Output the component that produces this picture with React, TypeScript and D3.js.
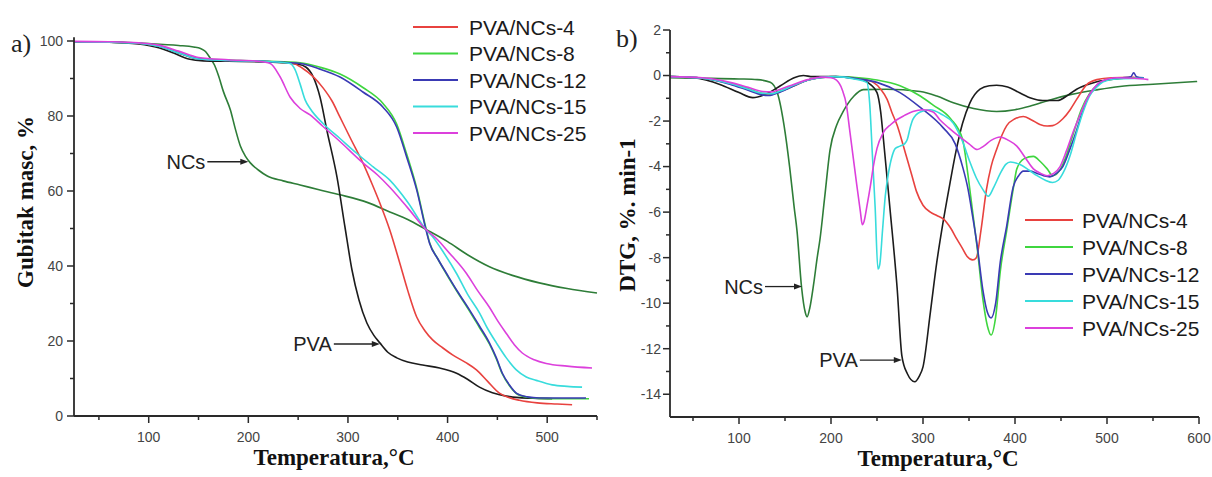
import React from "react";
import * as d3 from "d3";

// ---------- TGA (panel a): [temperature °C, residual mass %] ----------
const tgaNCs: [number, number][] = [
  [25, 99.8], [60, 99.7], [100, 99.3], [130, 98.8], [145, 98.4], [152, 98], [157, 97.2], [162, 95.3],
  [166, 93.6], [170, 90.8], [175, 86.5], [182, 81.6], [187, 76.5], [192, 72], [197, 69.3], [202, 67.5],
  [210, 65.6], [219, 64], [235, 62.7], [252, 61.6], [270, 60.4], [292, 59], [320, 56.9], [342, 54.4],
  [360, 52.4], [378, 49.8], [400, 46.5], [420, 43], [442, 39.8], [465, 37.5], [492, 35.5], [520, 34], [550, 32.8],
];
const tgaPVA: [number, number][] = [
  [25, 99.8], [60, 99.7], [90, 99.2], [110, 98.2], [125, 96.8], [140, 95.2], [155, 94.7], [180, 94.6],
  [220, 94.4], [250, 93.8], [258, 93], [265, 90.5], [272, 85], [279, 76], [289, 63.7], [297, 50.4],
  [304, 39], [311, 31], [319, 24.8], [326, 21.5], [332, 19.5], [340, 17], [349, 15.5], [360, 14.4],
  [375, 13.6], [392, 12.8], [409, 11.4], [420, 9.8], [432, 7.7], [445, 6.2], [459, 5.3], [472, 4.9],
  [490, 4.7], [505, 4.6],
];
const tga4: [number, number][] = [
  [25, 99.8], [60, 99.7], [90, 99.4], [110, 98.6], [130, 96.8], [150, 95.2], [180, 94.8], [220, 94.5],
  [245, 94], [254, 92.8], [265, 90.5], [275, 87.5], [284, 84], [292, 79.7], [303, 73.8], [315, 67.5],
  [324, 62], [332, 56.8], [342, 49.6], [352, 40.8], [360, 33.5], [369, 26.4], [377, 22.8], [385, 20.3],
  [395, 18.2], [405, 16.3], [418, 14.3], [429, 12.3], [440, 9.3], [452, 6.1], [462, 4.9], [472, 4.2],
  [490, 3.5], [510, 3.2], [525, 3],
];
const tga8: [number, number][] = [
  [25, 99.8], [60, 99.7], [90, 99.4], [110, 98.6], [130, 96.9], [150, 95.3], [180, 94.9], [220, 94.6],
  [252, 94.2], [272, 93], [292, 91.2], [315, 87.6], [335, 83.4], [349, 77.8], [359, 69.8], [369, 60.8],
  [378, 50.4], [382, 46.2], [390, 42], [399, 37.8], [410, 33], [422, 28], [432, 23.6], [442, 19.2],
  [449, 15.2], [455, 11.2], [462, 8.1], [469, 6], [480, 5], [492, 4.7], [515, 4.6], [542, 4.6],
];
const tga12: [number, number][] = [
  [25, 99.8], [60, 99.7], [90, 99.4], [110, 98.6], [130, 96.8], [150, 95.2], [180, 94.8], [220, 94.5],
  [252, 94], [272, 92.5], [292, 90.4], [315, 86.4], [335, 82.4], [349, 77], [359, 69], [369, 60.3],
  [378, 50], [382, 46], [390, 42], [399, 38], [410, 33.2], [422, 28.3], [432, 24], [442, 19.5],
  [449, 15.5], [455, 11.4], [462, 8.3], [469, 6.1], [480, 5.1], [492, 4.8], [515, 4.8], [539, 4.8],
];
const tga15: [number, number][] = [
  [25, 99.8], [60, 99.7], [90, 99.4], [110, 98.6], [130, 96.8], [150, 95.2], [180, 94.8], [220, 94.5],
  [242, 94], [247, 92.3], [252, 88.5], [257, 84.3], [262, 82], [275, 78], [292, 74], [309, 70],
  [325, 66.5], [342, 62.9], [360, 57], [378, 49.8], [385, 47.8], [397, 43.2], [409, 38], [420, 32.5],
  [432, 27.5], [440, 23.4], [449, 19.5], [459, 15.5], [469, 12.3], [479, 10.4], [489, 9.5], [505, 8.3],
  [520, 7.9], [535, 7.7],
];
const tga25: [number, number][] = [
  [25, 99.9], [60, 99.8], [90, 99.5], [110, 98.9], [130, 97.3], [150, 95.6], [180, 95], [210, 94.6],
  [222, 94], [232, 90.4], [242, 85], [252, 82], [262, 80.3], [275, 77.2], [292, 73.2], [315, 67.5],
  [330, 64.2], [342, 61], [360, 55.5], [378, 49.8], [390, 47], [400, 44], [419, 38], [430, 33.5],
  [442, 29], [450, 25.5], [459, 22], [467, 19], [475, 16.8], [487, 15], [499, 14], [520, 13.3], [545, 12.8],
];

// ---------- DTG (panel b): [temperature °C, %/min] ----------
const dtgNCs: [number, number][] = [
  [25, -0.1], [60, -0.12], [100, -0.15], [120, -0.18], [134, -0.3], [142, -0.8], [149, -2.2], [155, -4],
  [160, -5.8], [163, -6.8], [168, -9.3], [172, -10.4], [174, -10.6], [177, -10.2], [181, -9.2], [185, -8],
  [188, -7.2], [193, -5.4], [199, -3.25], [206, -2.2], [213, -1.6], [225, -0.9], [235, -0.62], [260, -0.6],
  [297, -0.7], [315, -0.9], [333, -1.2], [355, -1.45], [380, -1.58], [400, -1.5], [416, -1.35], [440, -1.05],
  [460, -0.84], [490, -0.62], [514, -0.48], [550, -0.38], [598, -0.26],
];
const dtgPVA: [number, number][] = [
  [25, -0.05], [50, -0.1], [80, -0.4], [100, -0.75], [115, -0.97], [130, -0.8], [145, -0.45], [160, -0.1],
  [170, 0], [180, -0.05], [200, -0.05], [230, -0.15], [243, -0.4], [250, -0.75], [254, -1.6], [257, -2.8],
  [264, -5.8], [272, -9.4], [277, -12.3], [283, -13.1], [291, -13.45], [296, -13.2], [300, -12.8], [308, -10.4],
  [315, -8.2], [322, -6.4], [329, -4.8], [336, -3.3], [343, -2.1], [351, -1.2], [362, -0.6], [372, -0.45],
  [380, -0.43], [392, -0.5], [405, -0.76], [418, -1.0], [430, -1.1], [446, -1.1], [458, -0.85], [467, -0.6],
  [480, -0.38], [489, -0.27], [510, -0.15], [530, -0.1],
];
const dtg4: [number, number][] = [
  [25, -0.05], [60, -0.12], [90, -0.35], [110, -0.6], [125, -0.8], [135, -0.82], [145, -0.7], [160, -0.45],
  [175, -0.2], [190, -0.08], [205, -0.05], [230, -0.12], [246, -0.3], [254, -0.6], [261, -1.05], [266, -1.6],
  [272, -2.2], [278, -3], [283, -3.7], [288, -4.4], [293, -5.1], [300, -5.7], [308, -6.0], [315, -6.15],
  [322, -6.3], [330, -6.7], [337, -7.2], [343, -7.6], [348, -7.95], [354, -8.1], [358, -8.0], [363, -6.8],
  [369, -5.0], [374, -4.0], [380, -3.25], [386, -2.6], [391, -2.2], [400, -1.9], [409, -1.8], [418, -1.95],
  [427, -2.15], [435, -2.22], [441, -2.2], [452, -1.9], [460, -1.5], [467, -1.05], [478, -0.4], [489, -0.18],
  [505, -0.1], [530, -0.08],
];
const dtg8: [number, number][] = [
  [25, -0.05], [60, -0.12], [90, -0.33], [110, -0.58], [125, -0.78], [135, -0.8], [145, -0.68], [160, -0.42],
  [175, -0.2], [190, -0.08], [205, -0.05], [230, -0.1], [250, -0.2], [275, -0.45], [297, -0.9], [311, -1.3],
  [330, -1.9], [343, -2.8], [349, -4.4], [354, -6.0], [359, -7.6], [365, -9.8], [370, -11.0], [374, -11.4],
  [379, -10.6], [384, -8.6], [391, -6.8], [398, -5.0], [402, -4.1], [410, -3.65], [420, -3.55], [428, -3.8],
  [435, -4.1], [441, -4.4], [448, -4.2], [455, -3.6], [463, -2.6], [472, -1.5], [481, -0.8], [490, -0.4],
  [500, -0.2], [520, -0.12], [540, -0.1],
];
const dtg12: [number, number][] = [
  [25, -0.05], [60, -0.12], [90, -0.38], [110, -0.65], [125, -0.85], [132, -0.88], [145, -0.72], [160, -0.45],
  [175, -0.2], [190, -0.08], [205, -0.05], [230, -0.15], [250, -0.3], [275, -0.75], [297, -1.4], [322, -2.3],
  [335, -3.0], [343, -4.0], [349, -5.0], [354, -6.2], [359, -7.5], [365, -9.4], [370, -10.4], [374, -10.65],
  [379, -10.0], [384, -8.2], [391, -6.6], [398, -4.9], [404, -4.4], [409, -4.2], [416, -4.2], [424, -4.3],
  [431, -4.4], [438, -4.45], [445, -4.3], [452, -4.0], [460, -3.2], [467, -2.4], [474, -1.5], [481, -0.84],
  [490, -0.4], [500, -0.18], [515, -0.1], [526, -0.05], [529, 0.12], [532, -0.05], [540, -0.1],
];
const dtg15: [number, number][] = [
  [25, -0.05], [60, -0.12], [90, -0.35], [110, -0.6], [125, -0.78], [135, -0.8], [145, -0.68], [160, -0.42],
  [175, -0.2], [190, -0.08], [205, -0.05], [225, -0.15], [239, -0.3], [242, -1.2], [245, -3.5], [248, -5.8],
  [251, -8.5], [253, -8.3], [256, -6.8], [259, -5.3], [262, -4.4], [266, -3.6], [270, -3.2], [275, -3.1],
  [280, -3.0], [283, -2.8], [286, -2.3], [289, -1.93], [297, -1.6], [308, -1.5], [320, -1.7], [333, -2.1],
  [343, -2.9], [351, -3.8], [358, -4.5], [365, -5.0], [371, -5.3], [377, -4.9], [384, -4.3], [390, -3.9],
  [395, -3.8], [405, -3.9], [415, -4.15], [424, -4.4], [433, -4.6], [441, -4.7], [447, -4.6], [452, -4.3],
  [460, -3.5], [467, -2.5], [474, -1.6], [481, -0.9], [489, -0.5], [496, -0.27], [510, -0.15], [540, -0.12],
];
const dtg25: [number, number][] = [
  [25, -0.05], [60, -0.1], [90, -0.3], [110, -0.52], [126, -0.7], [135, -0.72], [145, -0.6], [160, -0.38],
  [175, -0.18], [190, -0.07], [200, -0.1], [206, -0.2], [212, -0.6], [217, -1.35], [220, -2.3], [224, -3.55],
  [228, -4.8], [232, -6.0], [234, -6.55], [236, -6.4], [239, -5.75], [243, -4.8], [246, -4.0], [250, -3.2],
  [257, -2.5], [265, -2.15], [272, -1.93], [280, -1.75], [289, -1.58], [300, -1.5], [311, -1.6], [318, -1.93],
  [328, -2.3], [340, -2.7], [350, -3.0], [359, -3.25], [366, -3.1], [374, -2.85], [384, -2.7], [393, -2.85],
  [402, -3.1], [411, -3.6], [420, -4.1], [428, -4.3], [435, -4.4], [442, -4.3], [449, -4.0], [456, -3.3],
  [463, -2.5], [471, -1.7], [478, -1.05], [485, -0.6], [492, -0.3], [511, -0.1], [530, -0.12], [545, -0.18],
];

// ---------- axes ----------
const xTicksA = [100, 200, 300, 400, 500];
const xMinorA = [50, 150, 250, 350, 450, 550];
const yTicksA = [0, 20, 40, 60, 80, 100];
const yMinorA = [10, 30, 50, 70, 90];
const xTicksB = [100, 200, 300, 400, 500, 600];
const xMinorB = [50, 150, 250, 350, 450, 550];
const yTicksB = [2, 0, -2, -4, -6, -8, -10, -12, -14];
const yMinorB = [1, -1, -3, -5, -7, -9, -11, -13];

const legendNames = ["PVA/NCs-4", "PVA/NCs-8", "PVA/NCs-12", "PVA/NCs-15", "PVA/NCs-25"];
const legendColors = ["#e8423f", "#3fd63f", "#3a3ab4", "#38dcdc", "#dc40dc"];
const ncsColor = "#2e7d38";
const pvaColor = "#1c1c1c";

const W = 1212;
const H = 477;
const SANS = "'Liberation Sans', Arial, sans-serif";
const SERIF = "'Liberation Serif', 'Times New Roman', serif";
const AXIS = "#2a2a2a";
const TICK_TEXT = "#444";

const xA = d3.scaleLinear().domain([25, 550]).range([74, 597]);
const yA = d3.scaleLinear().domain([0, 101]).range([416, 37.25]);
const xB = d3.scaleLinear().domain([25, 600]).range([670, 1199]);
const yB = d3.scaleLinear().domain([-15, 2]).range([417, 30]);

type Scale = d3.ScaleLinear<number, number>;

function Series({ data, x, y, color }: { data: [number, number][]; x: Scale; y: Scale; color: string }) {
  const gen = d3
    .line<[number, number]>()
    .x((d) => x(d[0]))
    .y((d) => y(d[1]))
    .curve(d3.curveMonotoneX);
  return <path d={gen(data) || ""} fill="none" stroke={color} strokeWidth={1.6} strokeLinejoin="round" />;
}

function Axes({
  x, y, xTicks, xMinor, yTicks, yMinor, labelBase, yLabelX,
}: {
  x: Scale; y: Scale; xTicks: number[]; xMinor: number[]; yTicks: number[]; yMinor: number[];
  labelBase: number; yLabelX: number;
}) {
  const [x0, x1] = x.range();
  const [yb, yt] = y.range();
  return (
    <g>
      <line x1={x0} x2={x1} y1={yb} y2={yb} stroke={AXIS} strokeWidth={1.8} />
      <line x1={x0} x2={x0} y1={yb} y2={yt} stroke={AXIS} strokeWidth={1.8} />
      {xTicks.map((t) => (
        <g key={"xt" + t}>
          <line x1={x(t)} x2={x(t)} y1={yb} y2={yb + 7} stroke={AXIS} strokeWidth={1.5} />
          <text x={x(t)} y={labelBase} textAnchor="middle" fontFamily={SANS} fontSize={14} fill={TICK_TEXT}>
            {t}
          </text>
        </g>
      ))}
      {xMinor.map((t) => (
        <line key={"xm" + t} x1={x(t)} x2={x(t)} y1={yb} y2={yb + 4} stroke={AXIS} strokeWidth={1.5} />
      ))}
      {yTicks.map((t) => (
        <g key={"yt" + t}>
          <line x1={x0 - 7} x2={x0} y1={y(t)} y2={y(t)} stroke={AXIS} strokeWidth={1.5} />
          <text x={yLabelX} y={y(t)} dy="0.35em" textAnchor="end" fontFamily={SANS} fontSize={14} fill={TICK_TEXT}>
            {t}
          </text>
        </g>
      ))}
      {yMinor.map((t) => (
        <line key={"ym" + t} x1={x0 - 4} x2={x0} y1={y(t)} y2={y(t)} stroke={AXIS} strokeWidth={1.5} />
      ))}
    </g>
  );
}

function Callout({ tipX, tipY, label, len }: { tipX: number; tipY: number; label: string; len: number }) {
  const startX = tipX - len;
  return (
    <g>
      <line x1={startX + 2} x2={tipX - 6} y1={tipY} y2={tipY} stroke="#222" strokeWidth={1.3} />
      <path d={`M${tipX},${tipY} L${tipX - 8},${tipY - 3} L${tipX - 8},${tipY + 3} Z`} fill="#222" />
      <text x={startX} y={tipY} dy="0.35em" textAnchor="end" fontFamily={SANS} fontSize={20} fill="#222">
        {label}
      </text>
    </g>
  );
}

function Legend({ x0, x1, tx, top, step }: { x0: number; x1: number; tx: number; top: number; step: number }) {
  return (
    <g>
      {legendNames.map((n, i) => (
        <g key={n}>
          <line x1={x0} x2={x1} y1={top + i * step} y2={top + i * step} stroke={legendColors[i]} strokeWidth={1.8} />
          <text x={tx} y={top + i * step} dy="0.36em" fontFamily={SANS} fontSize={21} fill="#1a1a1a">
            {n}
          </text>
        </g>
      ))}
    </g>
  );
}

export default function App() {
  const tgaSeries = [tga4, tga8, tga12, tga15, tga25];
  const dtgSeries = [dtg4, dtg8, dtg12, dtg15, dtg25];
  return (
    <svg
      width={W}
      height={H}
      viewBox={`0 0 ${W} ${H}`}
      style={{ position: "absolute", left: 0, top: 0, background: "#fff" }}
    >
      <rect width={W} height={H} fill="#fff" />

      {/* panel a: thermogravimetric curves */}
      <Series data={tgaNCs} x={xA} y={yA} color={ncsColor} />
      <Series data={tgaPVA} x={xA} y={yA} color={pvaColor} />
      {tgaSeries.map((s, i) => (
        <Series key={"a" + i} data={s} x={xA} y={yA} color={legendColors[i]} />
      ))}
      <Axes x={xA} y={yA} xTicks={xTicksA} xMinor={xMinorA} yTicks={yTicksA} yMinor={yMinorA} labelBase={442} yLabelX={63} />
      <Legend x0={413} x1={458} tx={469} top={27} step={26.5} />
      <Callout tipX={xA(200)} tipY={yA(67.8)} label="NCs" len={43} />
      <Callout tipX={xA(332)} tipY={yA(19.2)} label="PVA" len={48} />
      <text x={11} y={52} fontFamily={SERIF} fontSize={26} fill="#222">a)</text>
      <text
        transform="translate(33,202) rotate(-90)"
        textAnchor="middle"
        fontFamily={SERIF}
        fontWeight="bold"
        fontSize={23}
        fill="#111"
      >
        Gubitak masc, %
      </text>
      <text x={334} y={465} textAnchor="middle" fontFamily={SERIF} fontWeight="bold" fontSize={23} fill="#111">
        Temperatura,°C
      </text>

      {/* panel b: derivative curves */}
      <Series data={dtgNCs} x={xB} y={yB} color={ncsColor} />
      <Series data={dtgPVA} x={xB} y={yB} color={pvaColor} />
      {dtgSeries.map((s, i) => (
        <Series key={"b" + i} data={s} x={xB} y={yB} color={legendColors[i]} />
      ))}
      <Axes x={xB} y={yB} xTicks={xTicksB} xMinor={xMinorB} yTicks={yTicksB} yMinor={yMinorB} labelBase={443} yLabelX={661} />
      <Legend x0={1025} x1={1073} tx={1082} top={220} step={27} />
      <Callout tipX={xB(168.5)} tipY={yB(-9.27)} label="NCs" len={39} />
      <Callout tipX={xB(277)} tipY={yB(-12.5)} label="PVA" len={44} />
      <text x={616} y={47} fontFamily={SERIF} fontSize={26} fill="#222">b)</text>
      <text
        transform="translate(635,215) rotate(-90)"
        textAnchor="middle"
        fontFamily={SERIF}
        fontWeight="bold"
        fontSize={23}
        fill="#111"
      >
        DTG, %. min-1
      </text>
      <text x={938} y={466} textAnchor="middle" fontFamily={SERIF} fontWeight="bold" fontSize={23} fill="#111">
        Temperatura,°C
      </text>
    </svg>
  );
}
